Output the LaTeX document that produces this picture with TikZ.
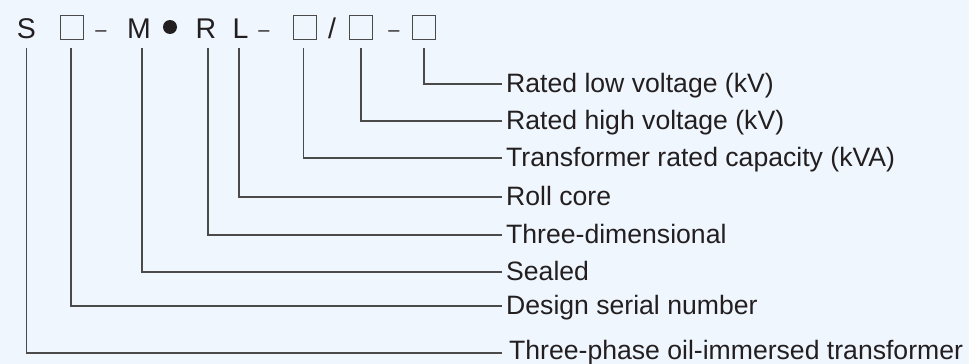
\documentclass[tikz,border=0pt]{standalone}
\usepackage{fontspec}
\setmainfont{Liberation Sans}
\definecolor{bg}{HTML}{EFF6FD}
\definecolor{ink}{HTML}{231F20}
\definecolor{wirecol}{HTML}{4A4A4A}
\begin{document}
\begin{tikzpicture}[x=1pt,y=-1pt,
  wire/.style={draw=wirecol, line width=1.1pt},
  code/.style={anchor=base, inner sep=0pt, text=ink, font=\fontsize{28.5}{30}\selectfont},
  dashmark/.style={anchor=base, inner sep=0pt, text=ink, font=\fontsize{20}{22}\selectfont},
  slot/.style={draw=wirecol, line width=1pt, minimum width=23pt, minimum height=24pt, inner sep=0pt},
  dotmark/.style={circle, fill=ink, minimum size=14pt, inner sep=0pt},
  lab/.style={anchor=west, inner xsep=4pt, inner ysep=0pt, text height=18pt, text depth=2pt,
              text=ink, font=\fontsize{26.6}{28}\selectfont}]
  % background and page size
  \fill[bg] (0,0) rectangle (969,364);
  \useasboundingbox (0,0) rectangle (969,364);

  % model code: S[]-M.RL-[]/[]-[]
  \node[code] (s) at (26.5,38) {S};
  \node[slot] (b1) at (71.5,27) {};
  \node[dashmark] (d1) at (101,36) {–};
  \node[code] (m) at (139,38) {M};
  \node[dotmark] (dot) at (170,27) {};
  \node[code] (r) at (206,38) {R};
  \node[code] (l) at (240.5,38) {L};
  \node[dashmark] (d2) at (264,36) {–};
  \node[slot] (b2) at (304.5,27) {};
  \node[code] (sl) at (332,38) {/};
  \node[slot] (b3) at (361,27) {};
  \node[dashmark] (d3) at (394,36) {–};
  \node[slot] (b4) at (424,27) {};

  % top end of the leader lines
  \coordinate (top) at (0,48);

  % explanations
  \node[lab] (t1) at (502,84)  {Rated low voltage (kV)};
  \node[lab] (t2) at (502,121) {Rated high voltage (kV)};
  \node[lab] (t3) at (502,158) {Transformer rated capacity (kVA)};
  \node[lab] (t4) at (502,197) {Roll core};
  \node[lab] (t5) at (502,235) {Three-dimensional};
  \node[lab] (t6) at (502,272) {Sealed};
  \node[lab] (t7) at (502,306) {Design serial number};
  \node[lab, yshift=-2pt, xshift=3pt] (t8) at (502,349) {Three-phase oil-immersed transformer};

  % leaders
  \draw[wire] (b4 |- top) |- (t1.west);
  \draw[wire] (b3 |- top) |- (t2.west);
  \draw[wire] ([xshift=-1pt]b2.center |- top) |- (t3.west);
  \draw[wire] ([xshift=-1.5pt]l.center |- top) |- (t4.west);
  \draw[wire] ([xshift=2pt]r.center |- top) |- (t5.west);
  \draw[wire] ([xshift=3pt]m.center |- top) |- (t6.west);
  \draw[wire] ([xshift=-0.5pt]b1.center |- top) |- (t7.west);
  \draw[wire] (s |- top) |- ([xshift=-3pt,yshift=-2pt]t8.west);
\end{tikzpicture}
\end{document}
